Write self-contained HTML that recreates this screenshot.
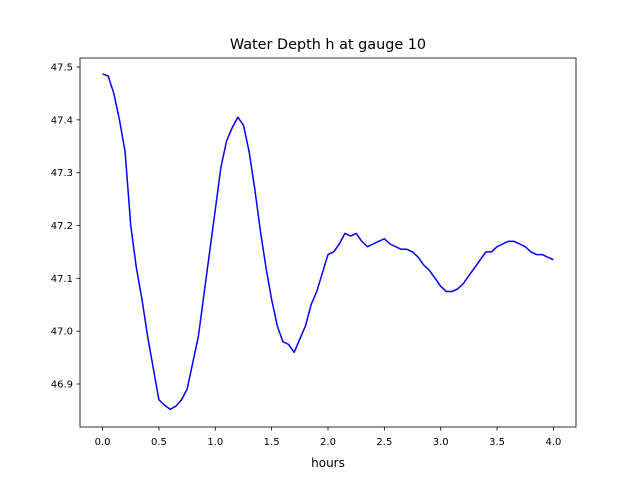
<!DOCTYPE html>
<html><head><meta charset="utf-8"><style>
body{margin:0;background:#fff;}
svg text{font-family:"DejaVu Sans","Liberation Sans",sans-serif;fill:#000;}
</style></head><body>
<svg id="chart" width="640" height="480" xmlns="http://www.w3.org/2000/svg">
<rect width="640" height="480" fill="#fff"/>
<text x="328" y="49" font-size="14.4" text-anchor="middle">Water Depth h at gauge 10</text>
<g id="plot"></g>
<rect x="80" y="58" width="496" height="369" fill="none" stroke="#000" stroke-width="0.8"/>
<text x="328" y="467" font-size="12" text-anchor="middle">hours</text>
</svg>
<script>
const times=[0,0.05,0.1,0.15,0.2,0.25,0.3,0.35,0.4,0.45,0.5,0.55,0.6,0.65,0.7,0.75,0.8,0.85,0.9,0.95,1.0,1.05,1.1,1.15,1.2,1.25,1.3,1.35,1.4,1.45,1.5,1.55,1.6,1.65,1.7,1.75,1.8,1.85,1.9,1.95,2.0,2.05,2.1,2.15,2.2,2.25,2.3,2.35,2.4,2.45,2.5,2.55,2.6,2.65,2.7,2.75,2.8,2.85,2.9,2.95,3.0,3.05,3.1,3.15,3.2,3.25,3.3,3.35,3.4,3.45,3.5,3.55,3.6,3.65,3.7,3.75,3.8,3.85,3.9,3.95,4.0];
const depth=[47.487,47.483,47.45,47.40,47.34,47.20,47.12,47.06,46.99,46.93,46.87,46.86,46.852,46.858,46.87,46.89,46.94,46.99,47.07,47.15,47.23,47.31,47.36,47.385,47.405,47.39,47.34,47.27,47.19,47.12,47.06,47.01,46.98,46.975,46.96,46.985,47.01,47.05,47.075,47.11,47.145,47.15,47.165,47.185,47.18,47.185,47.17,47.16,47.165,47.17,47.175,47.165,47.16,47.155,47.155,47.15,47.14,47.125,47.115,47.1,47.085,47.075,47.075,47.08,47.09,47.105,47.12,47.135,47.15,47.15,47.16,47.165,47.17,47.17,47.165,47.16,47.15,47.145,47.145,47.14,47.135];
const xTicks=[0.0,0.5,1.0,1.5,2.0,2.5,3.0,3.5,4.0];
const yTicks=[46.9,47.0,47.1,47.2,47.3,47.4,47.5];
const NS='http://www.w3.org/2000/svg';
const X=v=>80+(v+0.2)/4.4*496;
const Y=v=>427-(v-46.8186)/(47.5171-46.8186)*369;
const g=document.getElementById('plot');
function mk(t,a){const e=document.createElementNS(NS,t);for(const k in a)e.setAttribute(k,a[k]);return e;}
xTicks.forEach(t=>{
 const l=mk('line',{x1:X(t),x2:X(t),y1:427,y2:430.5,stroke:'#000','stroke-width':0.8});
 
 
 g.appendChild(l);
 const tx=mk('text',{x:X(t),y:445,'font-size':10,'text-anchor':'middle'});
 tx.textContent=t.toFixed(1);
 
 
 g.appendChild(tx);
});
yTicks.forEach(t=>{
 const l=mk('line',{x1:76.5,x2:80,y1:Y(t),y2:Y(t),stroke:'#000','stroke-width':0.8});
 
 
 g.appendChild(l);
 const tx=mk('text',{x:73,y:Y(t)+3.5,'font-size':10,'text-anchor':'end'});
 tx.textContent=t.toFixed(1);
 
 
 g.appendChild(tx);
});
const p=mk('polyline',{points:times.map((t,i)=>X(t)+','+Y(depth[i])).join(' '),fill:'none',stroke:'#0000ff','stroke-width':1.5,'stroke-linejoin':'round'});


g.appendChild(p);
</script>
</body></html>
